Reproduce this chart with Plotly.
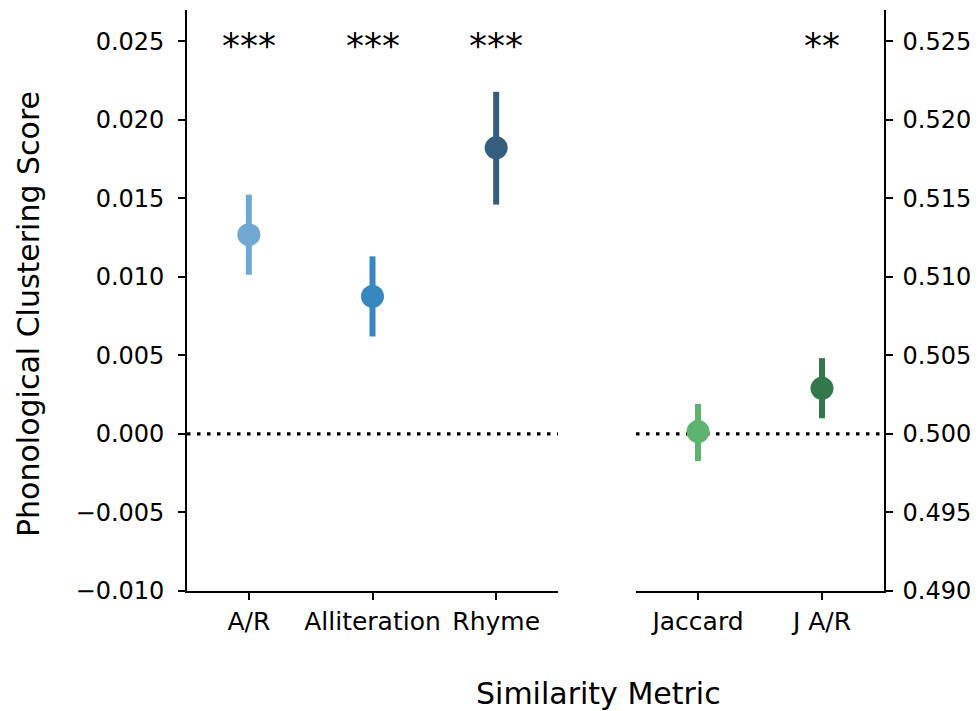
import plotly.graph_objects as go

# ---- data ----
left_categories = ["A/R", "Alliteration", "Rhyme"]
left_means = [0.01269, 0.00876, 0.01822]
left_upper = [0.01524, 0.01131, 0.02179]
left_lower = [0.01014, 0.00621, 0.01461]
left_colors = ["#6fa8d3", "#3787c0", "#345d7e"]
left_stars = ["***", "***", "***"]

right_categories = ["Jaccard", "J A/R"]
right_means = [0.50015, 0.50291]
right_upper = [0.50191, 0.50483]
right_lower = [0.49828, 0.50100]
right_colors = ["#5db46c", "#33784b"]
right_stars = ["", "**"]

left_ticks = [-0.010, -0.005, 0.000, 0.005, 0.010, 0.015, 0.020, 0.025]
left_ticktext = ["\u22120.010", "\u22120.005", "0.000", "0.005", "0.010", "0.015", "0.020", "0.025"]
right_ticks = [0.490, 0.495, 0.500, 0.505, 0.510, 0.515, 0.520, 0.525]
right_ticktext = ["0.490", "0.495", "0.500", "0.505", "0.510", "0.515", "0.520", "0.525"]

left_reference = 0.0
right_reference = 0.5
left_star_level = 0.025
right_star_level = 0.525

FONT = "DejaVu Sans"
fig = go.Figure()

for cat, m, up, lo, c in zip(left_categories, left_means, left_upper, left_lower, left_colors):
    fig.add_trace(go.Scatter(
        x=[cat], y=[m], mode="markers", xaxis="x", yaxis="y",
        marker=dict(size=23, color=c),
        error_y=dict(type="data", symmetric=False, array=[up - m], arrayminus=[m - lo],
                     thickness=6, width=0, color=c),
        showlegend=False))

for cat, m, up, lo, c in zip(right_categories, right_means, right_upper, right_lower, right_colors):
    fig.add_trace(go.Scatter(
        x=[cat], y=[m], mode="markers", xaxis="x2", yaxis="y2",
        marker=dict(size=23, color=c),
        error_y=dict(type="data", symmetric=False, array=[up - m], arrayminus=[m - lo],
                     thickness=6, width=0, color=c),
        showlegend=False))

# reference dotted lines
fig.add_shape(type="line", xref="x domain", yref="y", x0=0, x1=1, y0=left_reference, y1=left_reference,
              line=dict(color="black", width=3.3, dash="3.5px,6.5px"), layer="below")
fig.add_shape(type="line", xref="x2 domain", yref="y2", x0=0, x1=1, y0=right_reference, y1=right_reference,
              line=dict(color="black", width=3.3, dash="3.5px,6.5px"), layer="below")

for cat, s in zip(left_categories, left_stars):
    if s:
        fig.add_annotation(x=cat, y=left_star_level, xref="x", yref="y", text=s, showarrow=False,
                           font=dict(family=FONT, size=36, color="black"), yanchor="middle", yshift=-4)
for cat, s in zip(right_categories, right_stars):
    if s:
        fig.add_annotation(x=cat, y=right_star_level, xref="x2", yref="y2", text=s, showarrow=False,
                           font=dict(family=FONT, size=36, color="black"), yanchor="middle", yshift=-4)

# axis titles
fig.add_annotation(x=598 / 979, y=1 - 693 / 711, xref="paper", yref="paper", text="Similarity Metric",
                   showarrow=False, font=dict(family=FONT, size=30, color="black"),
                   xanchor="center", yanchor="middle")
fig.add_annotation(x=28 / 979, y=1 - 314 / 711, xref="paper", yref="paper",
                   text="Phonological Clustering Score", textangle=-90,
                   showarrow=False, font=dict(family=FONT, size=30, color="black"),
                   xanchor="center", yanchor="middle")

tick_font = dict(family=FONT, size=24, color="black")
xtick_font = dict(family=FONT, size=25, color="black")
axis_common = dict(showgrid=False, zeroline=False, showline=True, linecolor="black", linewidth=1.6,
                   ticks="outside", ticklen=7, tickwidth=1.6, tickcolor="black",
                   automargin=False)

fig.update_layout(
    width=979, height=711,
    margin=dict(l=0, r=0, t=0, b=0, pad=0),
    paper_bgcolor="white", plot_bgcolor="white",
    font=dict(family=FONT, color="black"),
    xaxis=dict(domain=[187 / 979, 558 / 979], anchor="y", type="category",
               range=[-0.5, 2.5], ticklabelstandoff=0, tickfont=xtick_font, **axis_common),
    yaxis=dict(domain=[1 - 591 / 711, 1 - 10 / 711], anchor="x", range=[-0.010, 0.027],
               tickvals=left_ticks, ticktext=left_ticktext, ticklabelstandoff=9,
               tickfont=tick_font, **axis_common),
    xaxis2=dict(domain=[636 / 979, 884 / 979], anchor="y2", type="category",
                range=[-0.5, 1.5], ticklabelstandoff=0, tickfont=xtick_font, **axis_common),
    yaxis2=dict(domain=[1 - 591 / 711, 1 - 10 / 711], anchor="x2", side="right", range=[0.490, 0.527],
                tickvals=right_ticks, ticktext=right_ticktext, ticklabelstandoff=5,
                tickfont=tick_font, **axis_common),
)

fig.write_html("out.html")
